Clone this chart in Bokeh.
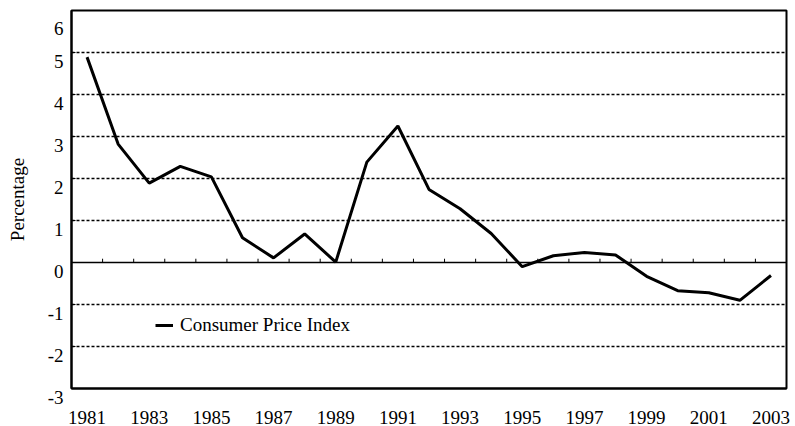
from bokeh.plotting import figure
from bokeh.models import Range1d, FixedTicker, Span, Legend, LegendItem
from bokeh.embed import file_html
from bokeh.resources import INLINE

years = list(range(1981, 2004))
cpi = [4.89, 2.82, 1.89, 2.29, 2.04, 0.59, 0.11, 0.68, 0.01, 2.39, 3.25, 1.74,
       1.28, 0.69, -0.10, 0.16, 0.24, 0.18, -0.33, -0.67, -0.72, -0.90, -0.31]
x_tick_years = years[::2]
y_ticks = [-3, -2, -1, 0, 1, 2, 3, 4, 5, 6]
grid_levels = [-2, -1, 1, 2, 3, 4, 5]

FONT = "Liberation Serif"
FS = "19px"

p = figure(width=795, height=436, output_backend="svg", toolbar_location=None,
           x_range=Range1d(years[0] - 0.5, years[-1] + 0.5),
           y_range=Range1d(y_ticks[0], y_ticks[-1]),
           min_border_left=71, min_border_top=10, min_border_right=9, min_border_bottom=48)

p.background_fill_color = "white"
p.border_fill_color = "white"
p.outline_line_color = "black"
p.outline_line_width = 2

# x axis
p.xaxis.ticker = FixedTicker(ticks=x_tick_years)
p.xaxis.major_tick_in = 0
p.xaxis.major_tick_out = 0
p.xaxis.minor_tick_line_color = None
p.xaxis.axis_line_width = 2
p.xaxis.axis_line_color = "black"
p.xaxis.major_label_text_font = FONT
p.xaxis.major_label_text_font_size = FS
p.xaxis.major_label_text_color = "black"
p.xaxis.major_label_standoff = 22

# y axis (labels sit just below their tick level, as in the original)
p.yaxis.ticker = FixedTicker(ticks=y_ticks)
p.yaxis.major_label_overrides = {t: "\n" + str(t) for t in y_ticks}
p.yaxis.major_label_text_line_height = 0.85
p.yaxis.major_tick_in = 4
p.yaxis.major_tick_out = 0
p.yaxis.major_tick_line_width = 1
p.yaxis.minor_tick_line_color = None
p.yaxis.axis_line_width = 2
p.yaxis.axis_line_color = "black"
p.yaxis.major_label_text_font = FONT
p.yaxis.major_label_text_font_size = FS
p.yaxis.major_label_text_color = "black"
p.yaxis.major_label_standoff = 8
p.yaxis.axis_label = "Percentage"
p.yaxis.axis_label_text_font = FONT
p.yaxis.axis_label_text_font_size = FS
p.yaxis.axis_label_text_font_style = "normal"
p.yaxis.axis_label_text_color = "black"
p.yaxis.axis_label_standoff = 17

# grid
p.xgrid.grid_line_color = None
p.ygrid.ticker = FixedTicker(ticks=grid_levels)
p.ygrid.grid_line_color = "black"
p.ygrid.grid_line_width = 1.3
p.ygrid.grid_line_dash = "3 2"

# zero line with small category ticks
p.add_layout(Span(location=0, dimension="width", line_color="black", line_width=1.5))
bounds = [y + 0.5 for y in years[:-1]]
p.segment(x0=bounds, y0=[0] * len(bounds), x1=bounds, y1=[0.09] * len(bounds),
          line_color="black", line_width=1)

r = p.line(years, cpi, line_color="black", line_width=3)

legend = Legend(items=[LegendItem(label="Consumer Price Index", renderers=[r])],
                location=(84, 52), padding=0, margin=0, spacing=0,
                glyph_width=18, glyph_height=20, label_standoff=7,
                label_text_font=FONT, label_text_font_size=FS, label_text_color="black",
                border_line_color=None, background_fill_alpha=0)
p.add_layout(legend)

open("out.html", "w").write(file_html(p, INLINE))
